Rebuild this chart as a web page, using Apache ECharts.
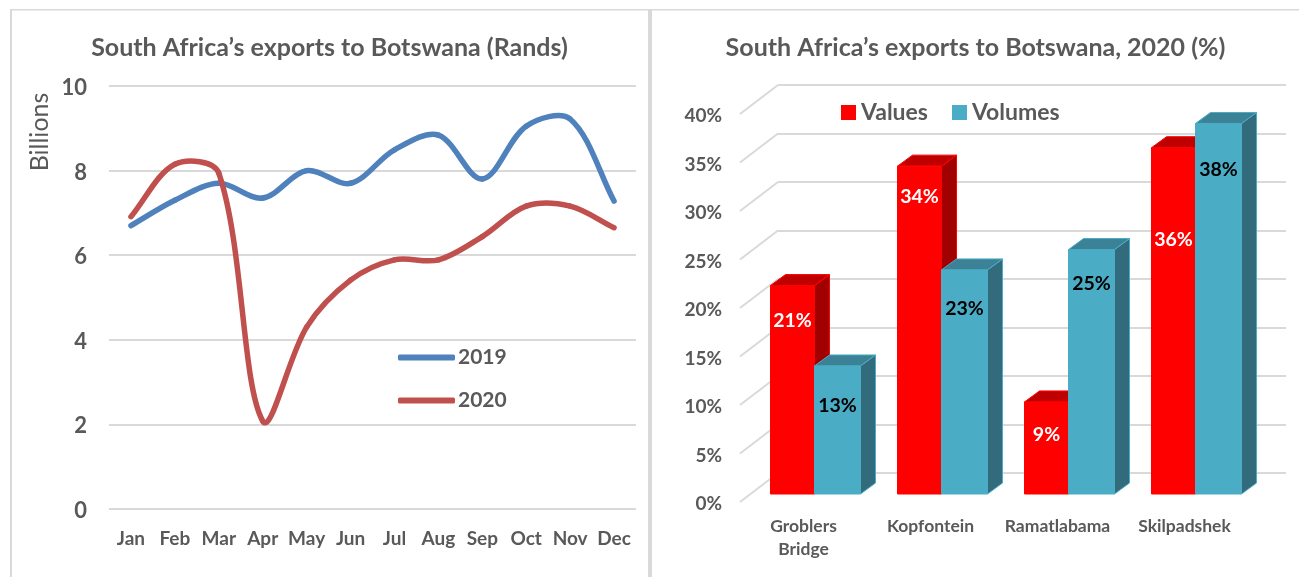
<!DOCTYPE html>
<html>
<head>
<meta charset="utf-8">
<style>
  html, body { margin: 0; padding: 0; background: #fff; }
  #chart { width: 1299px; height: 577px; }
</style>
<script src="https://cdn.jsdelivr.net/npm/echarts@6/dist/echarts.min.js"></script>
</head>
<body>
<div id="chart"></div>
<script>
const months = ["Jan", "Feb", "Mar", "Apr", "May", "Jun", "Jul", "Aug", "Sep", "Oct", "Nov", "Dec"];
const exports2019 = [6.7, 7.3, 7.7, 7.35, 8.0, 7.7, 8.49, 8.84, 7.8, 9.05, 9.22, 7.28];
const exports2020 = [6.91, 8.15, 7.94, 2.08, 4.3, 5.41, 5.89, 5.89, 6.44, 7.16, 7.16, 6.65];

const posts = ["Groblers\nBridge", "Kopfontein", "Ramatlabama", "Skilpadshek"];
const shareValues = [21.49, 33.8, 9.49, 35.7];
const shareVolumes = [13.2, 23.1, 25.2, 38.2];
const rightTicks = [0, 5, 10, 15, 20, 25, 30, 35, 40];

// how far each data label sits under the top of its bar, set by hand like in the original
const dropValues = [35, 31, 33, 92];
const dropVolumes = [40, 39, 34, 46];

const grey = "#595959";
const gridGrey = "#D9D9D9";
const font = "Lato";

// Excel style smoothed line, one bezier per pair of months
function tramo(valores, color) {
    return function (params, api) {
        const i = params.dataIndex;
        if (i === valores.length - 1) {
            return null;
        }
        const pt = function (k) {
            const j = Math.max(0, Math.min(valores.length - 1, k));
            return api.coord([j, valores[j]]);
        };
        const largo = function (a, b) {
            return Math.hypot(b[0] - a[0], b[1] - a[1]);
        };
        const p0 = pt(i - 1), p1 = pt(i), p2 = pt(i + 1), p3 = pt(i + 2);
        const d0 = largo(p0, p1), d1 = largo(p1, p2), d2 = largo(p2, p3);
        // the handle on each side is cut down when that side is the shorter segment
        const k1 = d1 / (d0 + d1) / 3;
        const k2 = d1 / (d1 + d2) / 3;
        return {
            type: "bezierCurve",
            shape: {
                x1: p1[0], y1: p1[1],
                cpx1: p1[0] + (p2[0] - p0[0]) * k1, cpy1: p1[1] + (p2[1] - p0[1]) * k1,
                cpx2: p2[0] - (p3[0] - p1[0]) * k2, cpy2: p2[1] - (p3[1] - p1[1]) * k2,
                x2: p2[0], y2: p2[1]
            },
            style: { fill: null, stroke: color, lineWidth: 5.5, lineCap: "round" }
        };
    };
}

function caja(params, api, colores, desde, ancho, caida, colorTexto) {
    const top = api.coord([api.value(0), api.value(1)]);
    const base = api.coord([api.value(0), 0]);
    const x = top[0] + desde;
    const dx = 15, dy = -11;
    const borde = { stroke: colores[0], lineWidth: 1, lineJoin: "round" };
    return {
        type: "group",
        children: [
            {
                type: "polygon",
                shape: { points: [[x + ancho, top[1]], [x + ancho + dx, top[1] + dy], [x + ancho + dx, base[1] + dy], [x + ancho, base[1]]] },
                style: { fill: colores[2], ...borde }
            },
            {
                type: "polygon",
                shape: { points: [[x, top[1]], [x + dx, top[1] + dy], [x + ancho + dx, top[1] + dy], [x + ancho, top[1]]] },
                style: { fill: colores[1], ...borde }
            },
            {
                type: "rect",
                shape: { x: x, y: top[1], width: ancho, height: base[1] - top[1] },
                style: { fill: colores[0], stroke: colores[0], lineWidth: 1 }
            },
            {
                type: "text",
                style: {
                    x: x + ancho / 2,
                    y: top[1] + caida[params.dataIndex],
                    text: Math.round(api.value(1)) + "%",
                    fill: colorTexto,
                    font: "bold 19.5px " + font,
                    align: "center",
                    verticalAlign: "middle"
                }
            }
        ]
    };
}

const opciones = {
    animation: false,
    title: [
        {
            text: "South Africa\u2019s exports to Botswana (Rands)",
            left: 324.5, top: 30, textAlign: "center",
            textStyle: { color: grey, fontFamily: font, fontWeight: "bold", fontSize: 25 }
        },
        {
            text: "South Africa\u2019s exports to Botswana, 2020 (%)",
            left: 970.5, top: 30, textAlign: "center",
            textStyle: { color: grey, fontFamily: font, fontWeight: "bold", fontSize: 25 }
        }
    ],
    legend: [
        {
            data: ["2019", "2020"],
            orient: "vertical",
            padding: 0,
            left: 398, top: 347,
            itemWidth: 57, itemHeight: 6, itemGap: 22,
            icon: "roundRect",
            textStyle: { color: grey, fontFamily: font, fontWeight: "bold", fontSize: 21, padding: [0, 0, 0, -2] }
        },
        {
            data: ["Values", "Volumes"],
            padding: 0,
            left: 841, top: 101,
            itemWidth: 15, itemHeight: 15, itemGap: 24,
            icon: "rect",
            textStyle: { color: grey, fontFamily: font, fontWeight: "bold", fontSize: 23 }
        }
    ],
    grid: [
        { left: 109, top: 86, width: 527, height: 423 },
        { left: 740, top: 114, width: 508, height: 388 },
        { left: 752, top: 106, width: 508, height: 388 },
        { left: 778, top: 85, width: 508, height: 388 }
    ],
    xAxis: [
        {
            gridIndex: 0, type: "category", data: months,
            axisLine: { show: false }, axisTick: { show: false },
            axisLabel: { color: grey, fontFamily: font, fontWeight: "bold", fontSize: 19, margin: 20, interval: 0 }
        },
        {
            gridIndex: 1, type: "category", data: posts,
            axisLine: { show: false }, axisTick: { show: false },
            axisLabel: { color: grey, fontFamily: font, fontWeight: "bold", fontSize: 17.5, margin: 13, lineHeight: 23, interval: 0 }
        },
        { gridIndex: 2, type: "category", data: posts, show: false },
        { gridIndex: 3, type: "category", data: posts, show: false }
    ],
    yAxis: [
        {
            gridIndex: 0, type: "value", min: 0, max: 10, interval: 2,
            axisLine: { show: false }, axisTick: { show: false },
            axisLabel: { color: grey, fontFamily: font, fontWeight: "bold", fontSize: 22, margin: 22, verticalAlign: "top", lineHeight: 4 },
            splitLine: { lineStyle: { color: gridGrey, width: 2 } }
        },
        {
            gridIndex: 1, type: "value", min: 0, max: 40, interval: 5,
            axisLine: { show: false }, axisTick: { show: false },
            axisLabel: { color: grey, fontFamily: font, fontWeight: "bold", fontSize: 19, margin: 18, verticalAlign: "top", lineHeight: 4, formatter: "{value}%" },
            splitLine: { show: false }
        },
        { gridIndex: 2, type: "value", min: 0, max: 40, interval: 5, show: false, splitLine: { show: false } },
        {
            gridIndex: 3, type: "value", min: 0, max: 40, interval: 5,
            axisLine: { show: false }, axisTick: { show: false }, axisLabel: { show: false },
            splitLine: { lineStyle: { color: gridGrey, width: 2 } }
        }
    ],
    series: [
        {
            name: "2019", type: "custom", clip: false,
            xAxisIndex: 0, yAxisIndex: 0,
            itemStyle: { color: "#4F81BD" },
            data: exports2019.map(function (v, i) { return [i, v]; }),
            renderItem: tramo(exports2019, "#4F81BD")
        },
        {
            name: "2020", type: "custom", clip: false,
            xAxisIndex: 0, yAxisIndex: 0,
            itemStyle: { color: "#C0504D" },
            data: exports2020.map(function (v, i) { return [i, v]; }),
            renderItem: tramo(exports2020, "#C0504D")
        },
        {
            // diagonals of the side wall, one for each tick
            type: "custom", xAxisIndex: 1, yAxisIndex: 1, silent: true, clip: false,
            data: rightTicks.map(function (t) { return [0, t]; }),
            renderItem: function (params, api) {
                const p = api.coord([0, api.value(1)]);
                const x = params.coordSys.x;
                return {
                    type: "line",
                    shape: { x1: x, y1: p[1], x2: x + 38, y2: p[1] - 29 },
                    style: { stroke: gridGrey, lineWidth: 2 }
                };
            }
        },
        {
            name: "Values", type: "custom", xAxisIndex: 2, yAxisIndex: 2, clip: false,
            itemStyle: { color: "#FF0000" },
            data: shareValues.map(function (v, i) { return [i, v]; }),
            renderItem: function (params, api) {
                return caja(params, api, ["#FF0000", "#BE0000", "#A00000"], -45, 44, dropValues, "#FFFFFF");
            }
        },
        {
            name: "Volumes", type: "custom", xAxisIndex: 2, yAxisIndex: 2, clip: false,
            itemStyle: { color: "#4BACC6" },
            data: shareVolumes.map(function (v, i) { return [i, v]; }),
            renderItem: function (params, api) {
                return caja(params, api, ["#4BACC6", "#3B8297", "#316B7C"], -1, 46, dropVolumes, "#000000");
            }
        }
    ],
    graphic: [
        { type: "rect", silent: true, shape: { x: 10, y: 9, width: 1289, height: 1.5 }, style: { fill: gridGrey } },
        { type: "rect", silent: true, shape: { x: 10, y: 9, width: 2, height: 568 }, style: { fill: gridGrey } },
        { type: "rect", silent: true, shape: { x: 648, y: 9, width: 4, height: 568 }, style: { fill: gridGrey } },
        {
            type: "text", silent: true, x: 40, y: 132, rotation: Math.PI / 2,
            style: { text: "Billions", fill: grey, font: "25px " + font, align: "center", verticalAlign: "middle" }
        }
    ]
};

const miGrafico = echarts.init(document.getElementById("chart"));
miGrafico.setOption(opciones);
</script>
</body>
</html>
